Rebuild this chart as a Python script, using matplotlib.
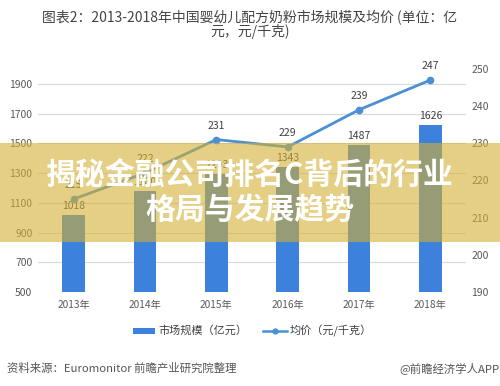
import numpy as np
import matplotlib.pyplot as plt
from matplotlib.patches import Rectangle

plt.rcParams['font.family'] = ['Noto Sans CJK SC', 'DejaVu Sans']

years = ['2013年', '2014年', '2015年', '2016年', '2017年', '2018年']
market = [1018, 1180, 1293, 1343, 1487, 1626]
price = [215, 222, 231, 229, 239, 247]

title = '图表2：2013-2018年中国婴幼儿配方奶粉市场规模及均价 (单位：亿\n元，元/千克)'
banner = '揭秘金融公司排名C背后的行业\n格局与发展趋势'

fig = plt.figure(figsize=(5, 3.86), dpi=100)
ax = fig.add_axes([0.076, 0.2435, 0.856, 0.578])
ax2 = ax.twinx()

x = np.arange(len(years))
bar_c = '#3C82DC'
line_c = '#4A90D2'
txt_c = '#404040'
tick_c = '#595959'

ax.bar(x, market, width=0.32, color=bar_c, zorder=2)
for xi, v in zip(x, market):
    ax.text(xi, v + 25, str(v), ha='center', va='bottom', fontsize=7.5, color=txt_c)
ax.set_ylim(500, 2000)
ax.set_yticks(np.arange(500, 2000, 200))
ax.set_xlim(-0.5, 5.5)
ax.set_xticks(x)
ax.set_xticklabels(years)
ax.grid(axis='y', color='#D9D9D9', linewidth=0.8, zorder=0)
ax.set_axisbelow(True)

ax2.plot(x, price, color=line_c, linewidth=2, marker='o', markersize=4.5, zorder=3)
for xi, v in zip(x, price):
    ax2.text(xi, v + 2.4, str(v), ha='center', va='bottom', fontsize=7.5, color=txt_c)
ax2.set_ylim(190, 250)
ax2.set_yticks(np.arange(190, 251, 10))

for a in (ax, ax2):
    for s in a.spines.values():
        s.set_visible(False)
    a.tick_params(length=0, labelsize=7.5, labelcolor=tick_c, pad=4)
ax.tick_params(axis='x', labelsize=7.3, pad=6)

fig.text(0.5, 0.975, title, ha='center', va='top', fontsize=10, color='#444444',
         linespacing=0.95)

# legend drawn by hand
fig.patches.append(Rectangle((0.266, 0.135), 0.044, 0.016, transform=fig.transFigure,
                             color=bar_c, linewidth=0))
fig.text(0.316, 0.143, '市场规模（亿元）', ha='left', va='center', fontsize=8, color=txt_c)
fig.lines.append(plt.Line2D([0.526, 0.550, 0.574], [0.143, 0.143, 0.143],
                            transform=fig.transFigure, color=line_c, linewidth=1.8,
                            marker='o', markersize=3.5, markevery=[1]))
fig.text(0.580, 0.143, '均价（元/千克）', ha='left', va='center', fontsize=8, color=txt_c)

fig.text(0.014, 0.047, '资料来源：Euromonitor 前瞻产业研究院整理', ha='left', va='center',
         fontsize=8.2, color='#555555')
fig.text(0.998, 0.047, '@前瞻经济学人APP', ha='right', va='center', fontsize=8.2,
         color='#555555')

# overlay banner
fig.patches.append(Rectangle((0, 0.373), 1, 0.257, transform=fig.transFigure,
                             facecolor=(0.83, 0.69, 0.2), alpha=0.6, linewidth=0,
                             zorder=5))
fig.text(0.5, 0.50, banner, ha='center', va='center', fontsize=21.5, color='white',
         fontweight='bold', linespacing=1.15, zorder=6)

fig.savefig('out.png', dpi=100)
